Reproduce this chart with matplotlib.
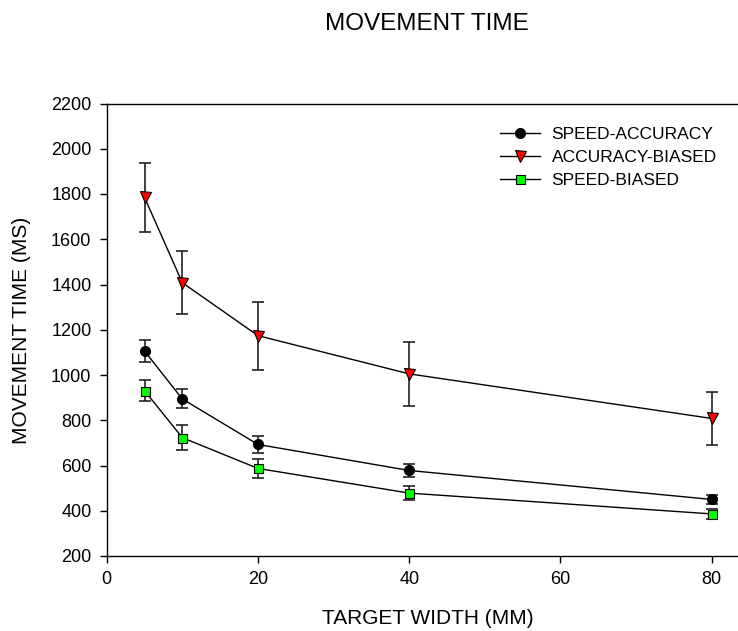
import numpy as np
import matplotlib
matplotlib.use("Agg")
import matplotlib.pyplot as plt

plt.rcParams['font.family'] = ['Liberation Sans', 'DejaVu Sans']

# data
width = [5, 10, 20, 40, 80]
speed_acc = [1106, 894, 693, 578, 450]
speed_acc_err = [50, 42, 37, 30, 20]
acc_biased = [1785, 1408, 1174, 1005, 808]
acc_biased_err = [152, 140, 150, 140, 118]
speed_biased = [931, 723, 587, 478, 386]
speed_biased_err = [45, 54, 42, 31, 21]

W, H = 738, 631
fig = plt.figure(figsize=(W / 100, H / 100), dpi=100)
ax = fig.add_axes([106.7 / W, 1 - 556 / H, 1 - 106.7 / W, (556 - 103.5) / H])

series = [
    (speed_acc, speed_acc_err, 'o', 'black', 10, "SPEED-ACCURACY"),
    (acc_biased, acc_biased_err, 'v', 'red', 11, "ACCURACY-BIASED"),
    (speed_biased, speed_biased_err, 's', '#00ff00', 9, "SPEED-BIASED"),
]
handles = []
for vals, err, mk, col, ms, lab in series:
    ax.errorbar(width, vals, yerr=err, fmt='none', ecolor='#222222', elinewidth=1.2,
                capsize=4.6, capthick=1.2, zorder=2)
    h, = ax.plot(width, vals, '-', color='black', lw=1.0, marker=mk, ms=ms * 0.72,
                 mfc=col, mec='black', mew=0.8, zorder=3, label=lab)
    handles.append(h)

ax.set_xlim(0, (W - 106.7) / 7.5625)
ax.set_ylim(200, 2200)
ax.set_xticks([0, 20, 40, 60, 80])
ax.set_yticks(np.arange(200, 2201, 200))
ax.spines['right'].set_visible(False)
for s in ['left', 'bottom', 'top']:
    ax.spines[s].set_linewidth(1.0)
ax.tick_params(direction='out', length=5, width=1.0, labelsize=13, pad=6)

fig.text(428 / W, 1 - 618 / H, "TARGET WIDTH (MM)", ha='center', va='center', fontsize=15)
fig.text(22 / W, 1 - 330 / H, "MOVEMENT TIME (MS)", ha='center', va='center',
         rotation=90, fontsize=15)
fig.text(427 / W, 1 - 24 / H, "MOVEMENT TIME", ha='center', va='center', fontsize=17.5)

fig.legend(handles=handles, loc='upper left', bbox_to_anchor=(500 / W, 1 - 127 / H),
           frameon=False, fontsize=12.5, handlelength=2.3, handletextpad=0.67,
           labelspacing=0.45, borderpad=0, borderaxespad=0)

fig.savefig("out.png", dpi=100)
